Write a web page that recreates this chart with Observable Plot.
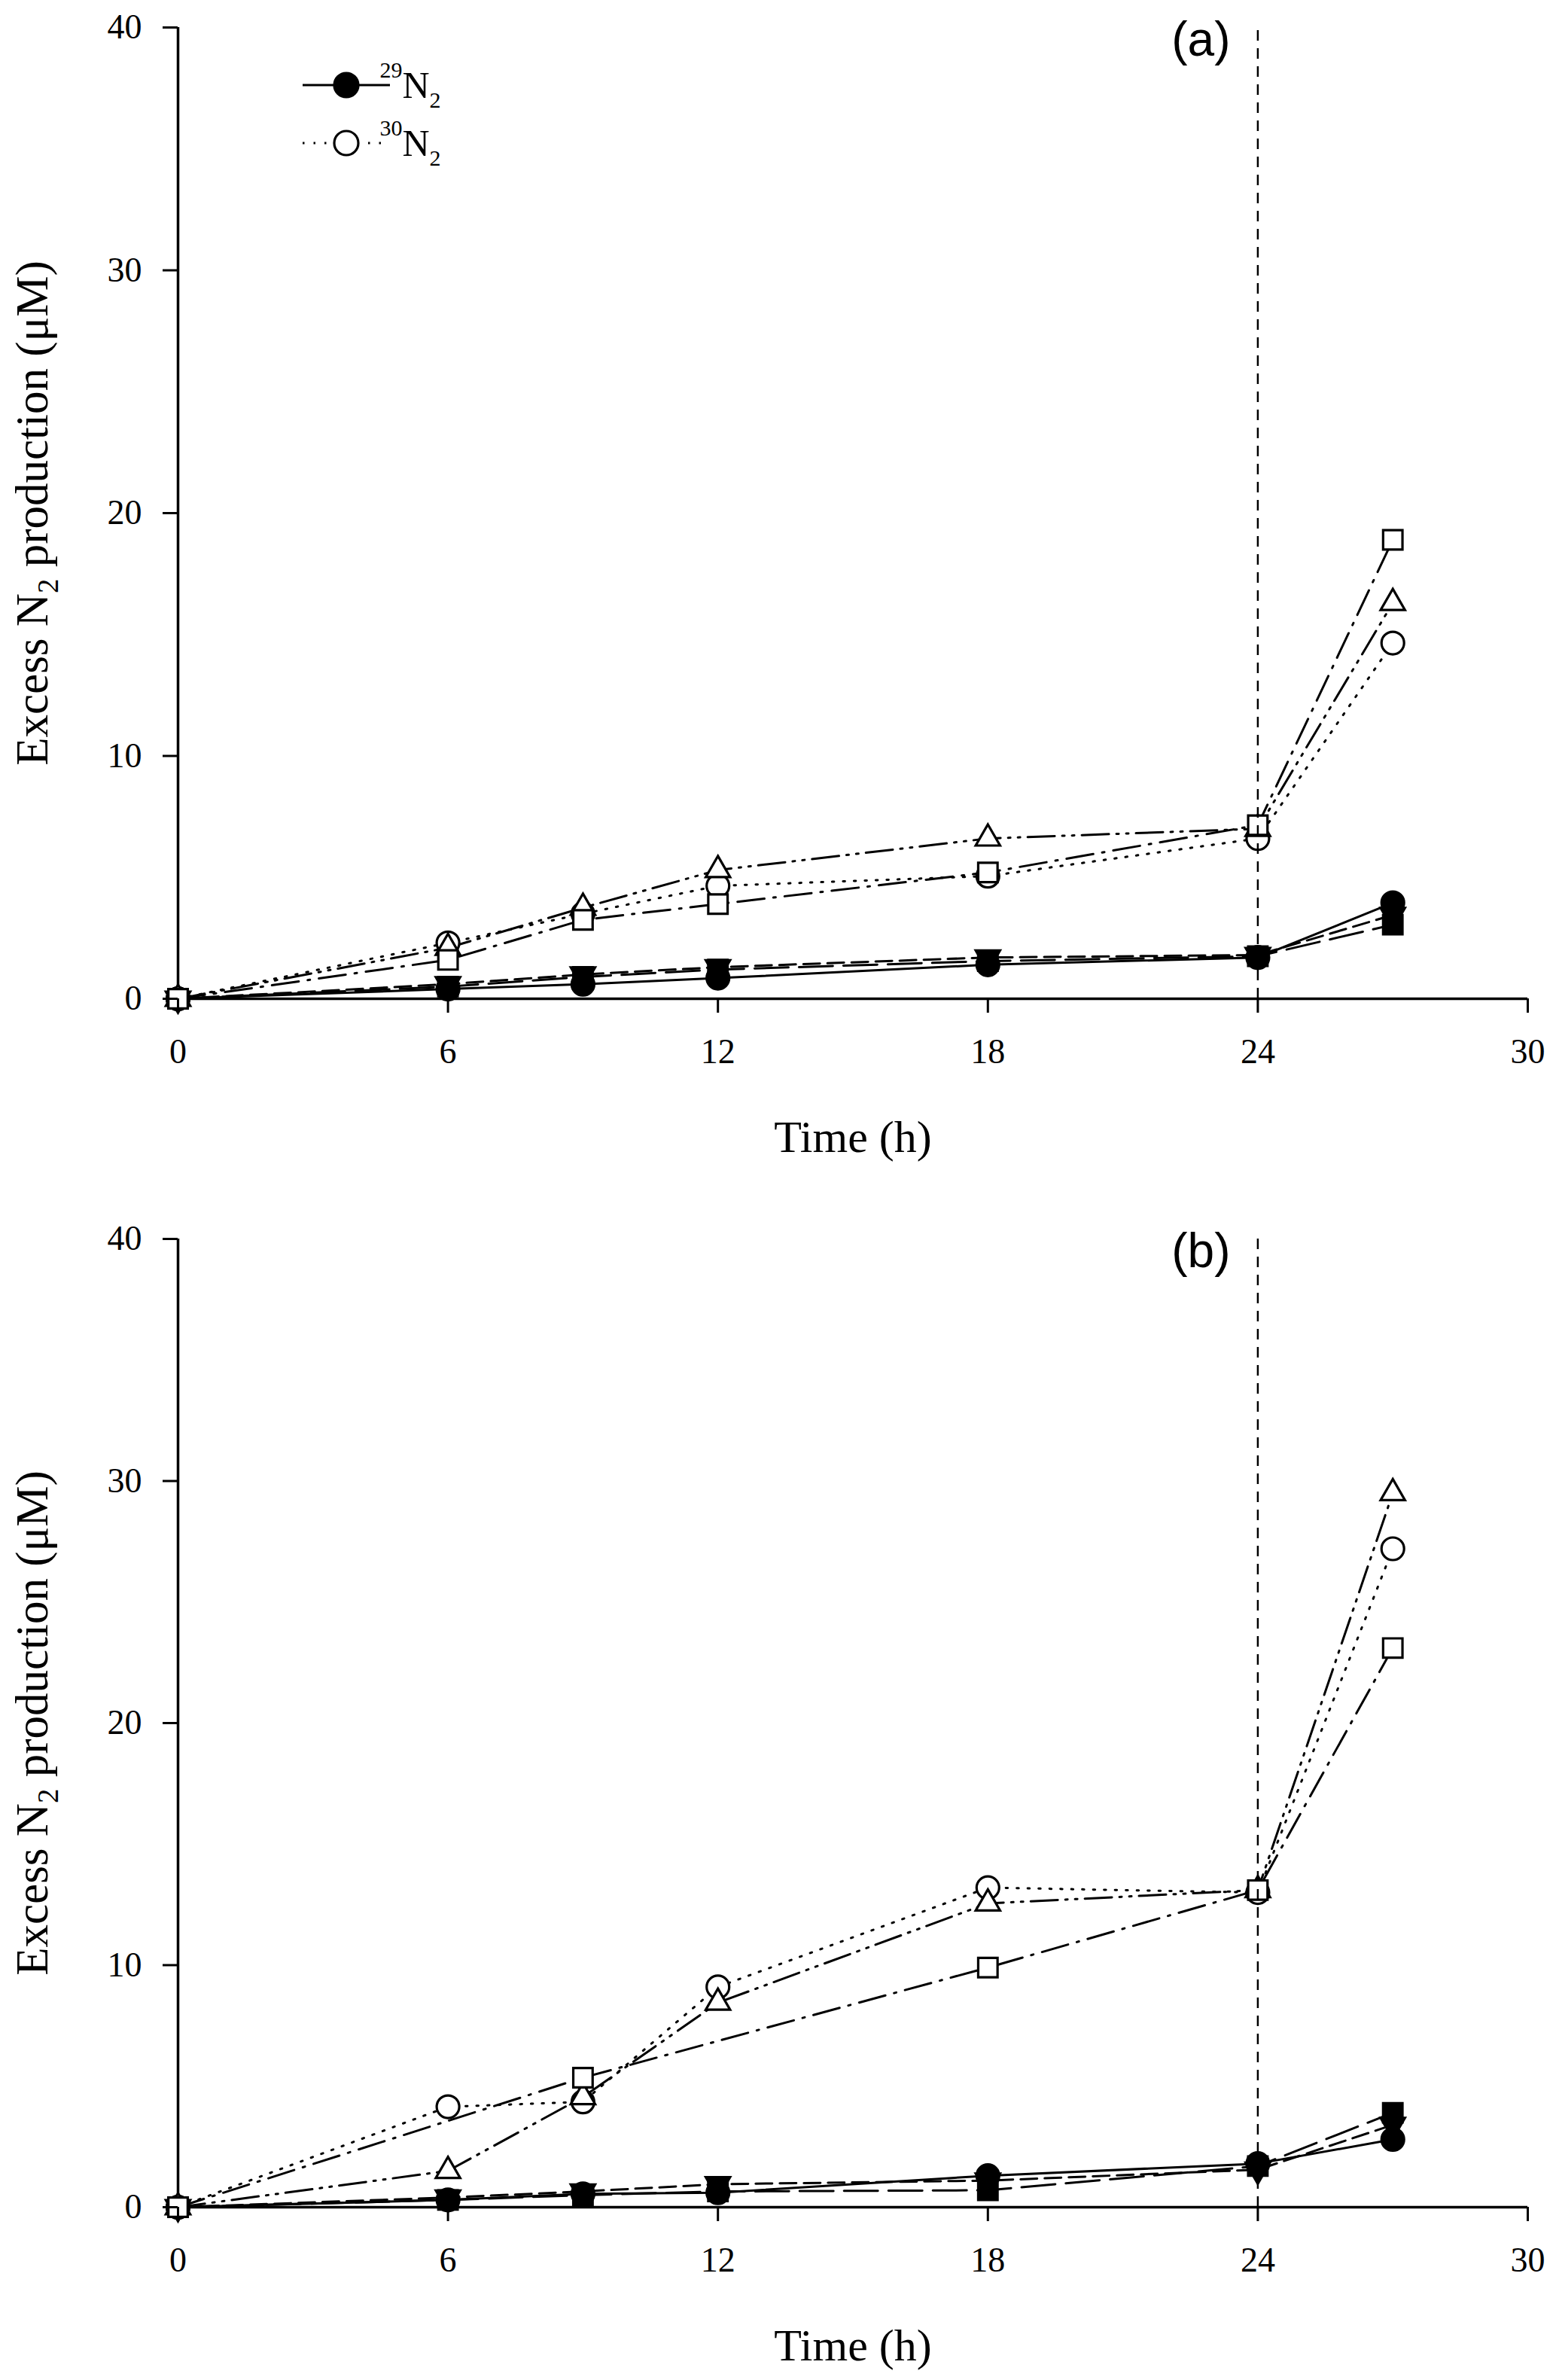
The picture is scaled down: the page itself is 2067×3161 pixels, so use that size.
<!DOCTYPE html>
<html>
<head>
<meta charset="utf-8">
<script src="https://cdn.jsdelivr.net/npm/d3@7"></script>
<script src="https://cdn.jsdelivr.net/npm/@observablehq/plot@0.6"></script>
<style>
  body { margin: 0; background: #fff; }
  #chart { width: 2067px; }
  #chart svg { display: block; }
</style>
</head>
<body>
<div id="chart"></div>
<script>
// ---------- data ----------
const time = [0, 6, 9, 12, 18, 24, 27];
const xTicks = [0, 6, 12, 18, 24, 30];
const yTicks = [0, 10, 20, 30, 40];
const switchTime = [24];
const panelLabels = ["(a)", "(b)"];
const yLabel = "Excess N2 production (μM)";
const xLabel = "Time (h)";

// panel (a)
const a_29_circle   = [0, 0.40, 0.60, 0.85, 1.40, 1.70, 3.95];
const a_29_triangle = [0, 0.60, 1.00, 1.30, 1.70, 1.80, 3.45];
const a_29_square   = [0, 0.50, 0.90, 1.20, 1.55, 1.75, 3.05];
const a_30_circle   = [0, 2.30, 3.50, 4.65, 5.05, 6.60, 14.65];
const a_30_triangle = [0, 2.10, 3.75, 5.30, 6.60, 7.00, 16.30];
const a_30_square   = [0, 1.60, 3.25, 3.90, 5.20, 7.15, 18.90];

// panel (b)
const b_29_circle   = [0, 0.30, 0.55, 0.60, 1.30, 1.80, 2.80];
const b_29_triangle = [0, 0.40, 0.65, 0.95, 1.10, 1.55, 3.40];
const b_29_square   = [0, 0.30, 0.50, 0.65, 0.70, 1.70, 3.90];
const b_30_circle   = [0, 4.15, 4.35, 9.10, 13.20, 13.00, 27.20];
const b_30_triangle = [0, 1.50, 4.55, 8.45, 12.55, 13.10, 29.50];
const b_30_square   = [0, null, 5.35, null, 9.90, 13.10, 23.10];

const legendItems = [
  {iso: "29", base: "N", sub: "2", series: "c29"},
  {iso: "30", base: "N", sub: "2", series: "c30"}
];

// ---------- styles ----------
const serif = "Liberation Serif";
const styles = {
  c29: {symbol: "circle",   r: 15,   fill: "black", rotate: 0,   dash: null},
  c30: {symbol: "circle",   r: 15,   fill: "white", rotate: 0,   dash: "2.5,12"},
  t29: {symbol: "triangle", r: 12,   fill: "black", rotate: 180, dash: "22,10"},
  t30: {symbol: "triangle", r: 12,   fill: "white", rotate: 0,   dash: "36,10,3,10,3,10"},
  s29: {symbol: "square",   r: 14.5, fill: "black", rotate: 0,   dash: "45,14"},
  s30: {symbol: "square",   r: 14.5, fill: "white", rotate: 0,   dash: "36,12,3,12"}
};
const order = ["c29", "t29", "s29", "c30", "t30", "s30"];

const panels = [
  {label: panelLabels[0], series: {c29: a_29_circle, t29: a_29_triangle, s29: a_29_square,
                                    c30: a_30_circle, t30: a_30_triangle, s30: a_30_square},
   height: 1580, marginTop: 36, marginBottom: 254},
  {label: panelLabels[1], series: {c29: b_29_circle, t29: b_29_triangle, s29: b_29_square,
                                    c30: b_30_circle, t30: b_30_triangle, s30: b_30_square},
   height: 1581, marginTop: 65, marginBottom: 230}
];

function rowsOf(values) {
  return time.map((t, i) => ({t, v: values[i]})).filter(d => d.v != null);
}

function makePanel(p) {
  const marks = [
    Plot.ruleY([yTicks[0]], {stroke: "black", strokeWidth: 3.5}),
    Plot.ruleX([xTicks[0]], {y1: yTicks[0], y2: yTicks[yTicks.length - 1], stroke: "black", strokeWidth: 3.5})
  ];
  for (const k of order) {
    const s = styles[k];
    marks.push(Plot.line(rowsOf(p.series[k]), {x: "t", y: "v", stroke: "black", strokeWidth: 3,
      strokeDasharray: s.dash || undefined}));
  }
  for (const k of order) {
    const s = styles[k];
    marks.push(Plot.dot(rowsOf(p.series[k]), {x: "t", y: "v", symbol: s.symbol, r: s.r,
      fill: s.fill, stroke: "black", strokeWidth: 3.2, rotate: s.rotate}));
  }
  marks.push(Plot.ruleX(switchTime, {y1: yTicks[0], y2: yTicks[yTicks.length - 1], stroke: "black",
    strokeWidth: 2.5, strokeDasharray: "14,10"}));
  marks.push(Plot.axisX({ticks: xTicks, tickSize: 19, tickPadding: 34, fontSize: 46, strokeWidth: 3,
    fontFamily: serif, label: null, tickFormat: d => String(d)}));
  marks.push(Plot.axisY({ticks: yTicks, tickSize: 20, tickPadding: 28, fontSize: 46, strokeWidth: 3,
    fontFamily: serif, label: null, tickFormat: d => String(d)}));
  marks.push(Plot.text([p.label], {frameAnchor: "top-right", dx: -395, dy: 17, textAnchor: "end",
    lineAnchor: "middle", fontFamily: "Liberation Sans", fontSize: 64, fill: "black"}));
  marks.push(Plot.text([yLabel], {frameAnchor: "left", rotate: -90, dx: -193, textAnchor: "middle",
    lineAnchor: "middle", fontFamily: serif, fontSize: 61, fill: "black"}));
  marks.push(Plot.text([xLabel], {frameAnchor: "bottom", dy: 184, textAnchor: "middle",
    lineAnchor: "middle", fontFamily: serif, fontSize: 60, fill: "black"}));

  return Plot.plot({
    width: 2067, height: p.height,
    marginLeft: 236, marginRight: 38, marginTop: p.marginTop, marginBottom: p.marginBottom,
    x: {domain: [xTicks[0], xTicks[xTicks.length - 1]], label: null},
    y: {domain: [yTicks[0], yTicks[yTicks.length - 1]], label: null},
    style: {fontFamily: serif, color: "black", background: "white", overflow: "visible"},
    marks
  });
}

const container = document.getElementById("chart");
panels.forEach((p, i) => {
  const svg = makePanel(p);
  container.appendChild(svg);
  const sel = d3.select(svg);
  // subscript in y-axis label
  sel.selectAll("text").each(function () {
    if (this.textContent === yLabel) {
      const t = d3.select(this);
      t.text(null);
      t.append("tspan").text("Excess N");
      t.append("tspan").attr("dy", 14).attr("font-size", 39).text("2");
      t.append("tspan").attr("dy", -14).text(" production (μM)");
    }
  });
  if (i === 0) {
    const g = sel.append("g").attr("class", "legend");
    const rowY = [113, 190];
    legendItems.forEach((it, j) => {
      const s = styles[it.series];
      const y = rowY[j];
      g.append("line").attr("x1", 402).attr("x2", 518).attr("y1", y).attr("y2", y)
        .attr("stroke", "black").attr("stroke-width", 3)
        .attr("stroke-dasharray", s.dash);
      g.append("circle").attr("cx", 460).attr("cy", y).attr("r", 16)
        .attr("fill", s.fill).attr("stroke", "black").attr("stroke-width", 3.2);
      const t = g.append("text").attr("x", 545).attr("y", y + 17)
        .attr("font-family", serif).attr("fill", "black");
      t.append("tspan").attr("font-size", 30).attr("dy", -27).text(it.iso);
      t.append("tspan").attr("font-size", 50).attr("dy", 27).text(it.base);
      t.append("tspan").attr("font-size", 30).attr("dy", 13).text(it.sub);
    });
  }
});
</script>
</body>
</html>
